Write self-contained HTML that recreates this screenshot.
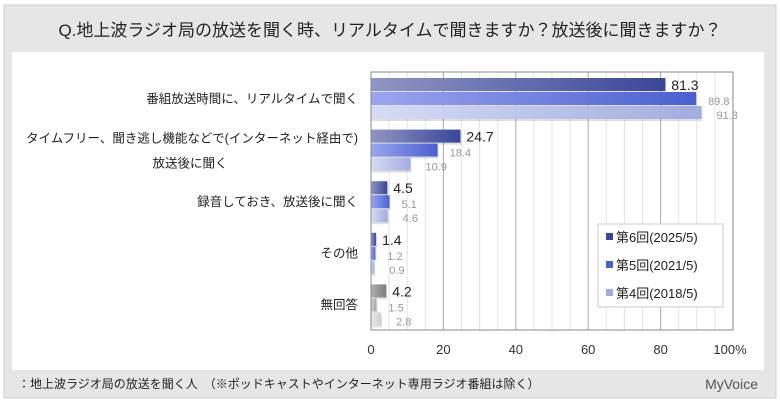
<!DOCTYPE html>
<html><head><meta charset="utf-8"><style>
body{margin:0;width:780px;height:405px;background:#fff;overflow:hidden;font-family:"Liberation Sans","Noto Sans CJK JP",sans-serif}
</style></head><body>
<svg id="c" width="780" height="405" xmlns="http://www.w3.org/2000/svg" style="font-family:'Liberation Sans','Noto Sans CJK JP',sans-serif">
<defs>
<linearGradient id="g0" x1="0" x2="1"><stop offset="0" stop-color="#8f96c4"/><stop offset="1" stop-color="#3a4698"/></linearGradient>
<linearGradient id="g1" x1="0" x2="1"><stop offset="0" stop-color="#9aa6ee"/><stop offset="1" stop-color="#4a5fd0"/></linearGradient>
<linearGradient id="g2" x1="0" x2="1"><stop offset="0" stop-color="#d6dbf5"/><stop offset="1" stop-color="#a3ace0"/></linearGradient>
<linearGradient id="h0" x1="0" x2="1"><stop offset="0" stop-color="#b0b0b0"/><stop offset="1" stop-color="#7c7c7c"/></linearGradient>
<linearGradient id="h1" x1="0" x2="1"><stop offset="0" stop-color="#d0d0d0"/><stop offset="1" stop-color="#a8a8a8"/></linearGradient>
<linearGradient id="h2" x1="0" x2="1"><stop offset="0" stop-color="#eaeaea"/><stop offset="1" stop-color="#cfcfcf"/></linearGradient>
</defs>
<rect x="4" y="5" width="772" height="393" fill="#e6e6e6" stroke="#cfcfcf"/>
<rect x="12" y="52" width="752" height="318" fill="#fff"/>
<text x="390" y="36" text-anchor="middle" font-size="17" fill="#222">Q.地上波ラジオ局の放送を聞く時、リアルタイムで聞きますか？放送後に聞きますか？</text>
<text x="18" y="388" font-size="12" fill="#222">：地上波ラジオ局の放送を聞く人　（※ポッドキャストやインターネット専用ラジオ番組は除く）</text>
<text x="758" y="389" text-anchor="end" font-size="14" fill="#555">MyVoice</text>
<g id="grid"></g><g id="bars"></g><g id="cats"></g>
<rect x="371" y="72" width="362" height="258" fill="none" stroke="#888"/>
<g id="ticks"></g>
<g>
<rect x="598" y="224" width="125" height="83" fill="#fff" stroke="#ccc"/>
<rect x="606" y="233" width="7" height="7" fill="#3a4698"/><text x="616" y="242" font-size="13" fill="#222">第6回(2025/5)</text>
<rect x="606" y="261" width="7" height="7" fill="#4a5fd0"/><text x="616" y="270" font-size="13" fill="#222">第5回(2021/5)</text>
<rect x="606" y="289" width="7" height="7" fill="#a3ace0"/><text x="616" y="298" font-size="13" fill="#222">第4回(2018/5)</text>
</g>
</svg>
<script>
const categories=[["番組放送時間に、リアルタイムで聞く"],["タイムフリー、聞き逃し機能などで(インターネット経由で)","放送後に聞く"],["録音しておき、放送後に聞く"],["その他"],["無回答"]];
const s2025=[81.3,24.7,4.5,1.4,4.2];
const s2021=[89.8,18.4,5.1,1.2,1.5];
const s2018=[91.3,10.9,4.6,0.9,2.8];
const tickLabels=["0","20","40","60","80","100%"];
const NS="http://www.w3.org/2000/svg";
const x0=371,x1=733,y0=72,y1=330;
const xs=v=>x0+(x1-x0)*v/100;
const gh=(y1-y0)/categories.length;
function mk(t,a,p){const e=document.createElementNS(NS,t);for(const k in a)e.setAttribute(k,a[k]);p.appendChild(e);return e;}
const grid=document.getElementById('grid');
for(let v=5;v<100;v+=5){const l=mk('line',{x1:xs(v),x2:xs(v),y1:y0,y2:y1,stroke:v%20?'#e4e4e4':'#aaa'},grid);

}
const ticks=document.getElementById('ticks');
tickLabels.forEach((t,i)=>{const e=mk('text',{x:xs(i*20)+(i==5?-3:0),y:354,'text-anchor':'middle','font-size':13,fill:'#333'},ticks);e.textContent=t;

});
const bars=document.getElementById('bars');
const series=[s2025,s2021,s2018];
categories.forEach((c,i)=>{
  const gy=y0+i*gh+6;
  series.forEach((s,j)=>{
    const y=gy+j*14, w=xs(s[i])-x0;
    const fill=i==4?`url(#h${j})`:`url(#g${j})`;
    mk('rect',{x:x0+1,y:y+2,width:w,height:13,fill:'#000',opacity:0.12},bars);
    const r=mk('rect',{x:x0,y:y,width:w,height:13,fill:fill},bars);
    
    
    const t=mk('text',{x:xs(s[i])+(j==0?6:9+j*3),y:y+(j==0?12:13),'font-size':j==0?14:11,fill:j==0?'#222':'#999'},bars);
    t.textContent=s[i].toFixed(1);
    
    
  });
  const cats=document.getElementById('cats');
  const cy=y0+i*gh+gh/2+5;
  c.forEach((line,k)=>{
    const multi=c.length>1;
    const t=mk('text',{x:multi&&k==1?190:358,y:multi?cy-12+k*25:cy,'text-anchor':multi&&k==1?'middle':'end','font-size':12.5,fill:'#222'},cats);
    t.textContent=line;
    
    
  });
});
</script>
</body></html>
